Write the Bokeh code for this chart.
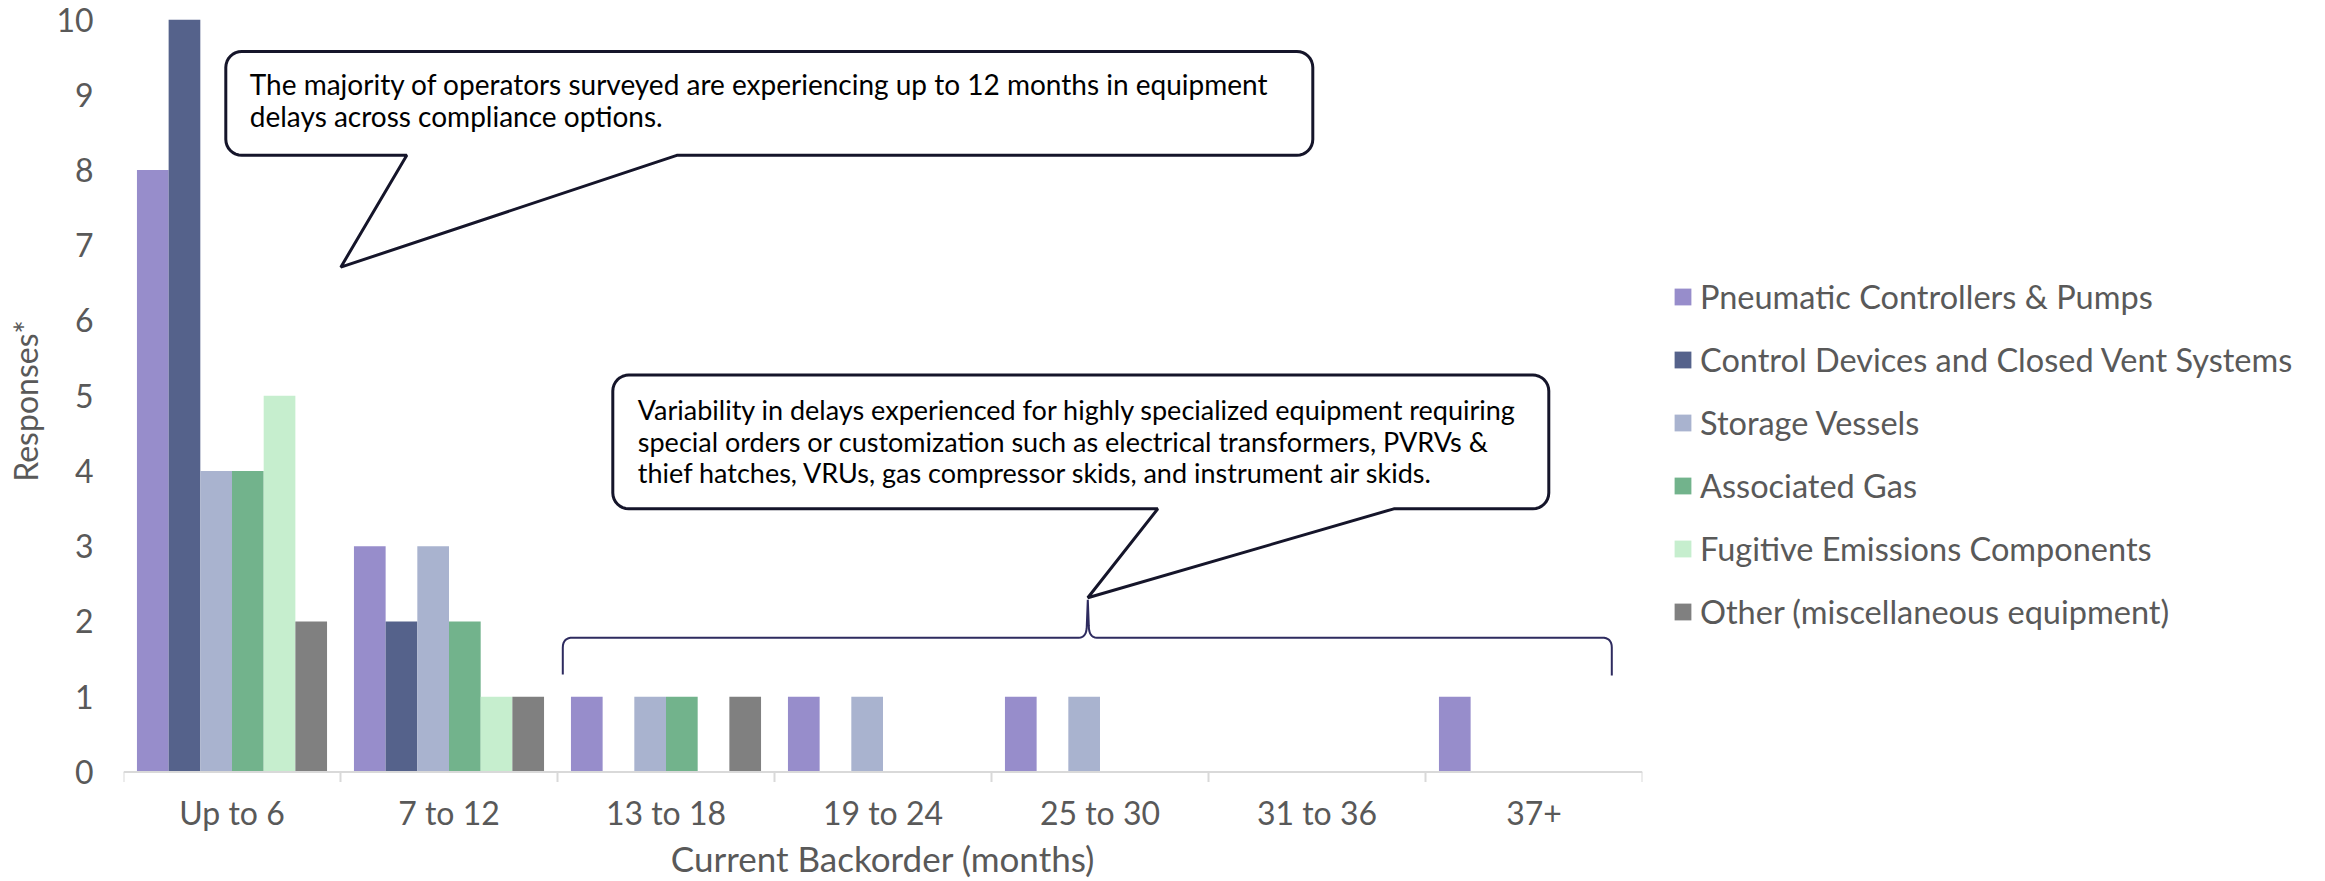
from bokeh.plotting import figure
from bokeh.models import (FactorRange, Range1d, FixedTicker, ColumnDataSource, Span,
                          Label, Legend, LegendItem)
from bokeh.transform import dodge
from bokeh.layouts import row
from bokeh.embed import file_html
from bokeh.resources import INLINE

# ---------------- data ----------------
categories = ["Up to 6", "7 to 12", "13 to 18", "19 to 24", "25 to 30", "31 to 36", "37+"]
series_names = [
    "Pneumatic Controllers & Pumps",
    "Control Devices and Closed Vent Systems",
    "Storage Vessels",
    "Associated Gas",
    "Fugitive Emissions Components",
    "Other (miscellaneous equipment)",
]
pneumatic = [8, 3, 1, 1, 1, 0, 1]
control_devices = [10, 2, 0, 0, 0, 0, 0]
storage_vessels = [4, 3, 1, 1, 1, 0, 0]
associated_gas = [4, 2, 1, 0, 0, 0, 0]
fugitive = [5, 1, 0, 0, 0, 0, 0]
other = [2, 1, 1, 0, 0, 0, 0]
series_values = [pneumatic, control_devices, storage_vessels, associated_gas, fugitive, other]
colors = ["#978DCB", "#55628B", "#A9B3CF", "#72B38C", "#C6EECE", "#808080"]
y_ticks = list(range(0, 11))

callout1_lines = [
    "The majority of operators surveyed are experiencing up to 12 months in equipment",
    "delays across compliance options.",
]
callout2_lines = [
    "Variability in delays experienced for highly specialized equipment requiring",
    "special orders or customization such as electrical transformers, PVRVs &",
    "thief hatches, VRUs, gas compressor skids, and instrument air skids.",
]

# ---------------- styling constants ----------------
FONT = "Lato"
GREY_TXT = "#595959"
H = 881
W_CHART = 1650
W_LEG = 2325 - W_CHART
Y_START = -0.14

p = figure(
    x_range=FactorRange(*categories),
    y_range=Range1d(Y_START, 10),
    width=W_CHART, height=H,
    min_border_left=123, min_border_right=8, min_border_top=19, min_border_bottom=98,
    output_backend="svg", toolbar_location=None,
)
p.xgrid.visible = False
p.ygrid.visible = False
p.outline_line_color = None

n = len(series_names)
bar_w = 0.146
for i, (name, vals, col) in enumerate(zip(series_names, series_values, colors)):
    src = ColumnDataSource(dict(x=categories, top=vals))
    off = (i - (n - 1) / 2) * bar_w
    p.vbar(x=dodge("x", off, range=p.x_range), top="top", width=bar_w, bottom=0,
           source=src, fill_color=col, line_color=None)

# baseline + category boundary ticks
p.add_layout(Span(location=0, dimension="width", line_color="#D9D9D9", line_width=2))
tick_src = ColumnDataSource(dict(x=categories, y0=[0] * len(categories), y1=[-0.133] * len(categories)))
p.segment(x0=dodge("x", -0.5, range=p.x_range), x1=dodge("x", -0.5, range=p.x_range),
          y0="y0", y1="y1", source=tick_src, line_color="#D9D9D9", line_width=2)
end_src = ColumnDataSource(dict(x=[categories[-1]], y0=[0], y1=[-0.133]))
p.segment(x0=dodge("x", 0.5, range=p.x_range), x1=dodge("x", 0.5, range=p.x_range),
          y0="y0", y1="y1", source=end_src, line_color="#D9D9D9", line_width=2)

# axes
p.yaxis.ticker = FixedTicker(ticks=y_ticks)
p.yaxis.axis_line_color = None
p.yaxis.major_tick_line_color = None
p.yaxis.minor_tick_line_color = None
p.yaxis.major_tick_out = 0
p.yaxis.major_tick_in = 0
p.yaxis.major_label_standoff = 30
p.yaxis.major_label_text_font = FONT
p.yaxis.major_label_text_font_size = "32px"
p.yaxis.major_label_text_color = GREY_TXT
p.yaxis.axis_label = "Responses*"
p.yaxis.axis_label_text_font = FONT
p.yaxis.axis_label_text_font_size = "32px"
p.yaxis.axis_label_text_font_style = "normal"
p.yaxis.axis_label_text_color = GREY_TXT
p.yaxis.axis_label_standoff = 8

p.xaxis.axis_line_color = None
p.xaxis.major_tick_line_color = None
p.xaxis.major_tick_out = 0
p.xaxis.major_tick_in = 0
p.xaxis.major_label_standoff = 10
p.xaxis.major_label_text_font = FONT
p.xaxis.major_label_text_font_size = "32px"
p.xaxis.major_label_text_color = GREY_TXT
p.xaxis.axis_label = "Current Backorder (months)"
p.xaxis.axis_label_text_font = FONT
p.xaxis.axis_label_text_font_size = "35px"
p.xaxis.axis_label_text_font_style = "normal"
p.xaxis.axis_label_text_color = GREY_TXT
p.xaxis.axis_label_standoff = 2

# ---------------- annotation geometry (page pixel space -> data space) ----------------
X0_PX, CAT_PX = 122.7, 217.0
Y0_PX, UNIT_PX = 772.5, 75.35


def dx(X):
    return (X - X0_PX) / CAT_PX


def dy(Y):
    return (Y0_PX - Y) / UNIT_PX


def arc(cx, cy, r, a0, a1, steps=8):
    import math
    pts = []
    for k in range(steps + 1):
        a = math.radians(a0 + (a1 - a0) * k / steps)
        pts.append((cx + r * math.cos(a), cy + r * math.sin(a)))
    return pts


def callout(x0, y0, x1, y1, base_l, base_r, tip, r=16):
    pts = []
    pts += arc(x0 + r, y0 + r, r, 180, 270)
    pts += arc(x1 - r, y0 + r, r, 270, 360)
    pts += arc(x1 - r, y1 - r, r, 0, 90)
    pts += [(base_r, y1), tip, (base_l, y1)]
    pts += arc(x0 + r, y1 - r, r, 90, 180)
    xs = [dx(a) for a, b in pts]
    ys = [dy(b) for a, b in pts]
    return xs, ys


CALLOUT_LINE = "#15152A"
xs1, ys1 = callout(225, 51, 1312, 155, 406, 676, (340, 267))
p.patch(xs1, ys1, fill_color="white", line_color=CALLOUT_LINE, line_width=3)
xs2, ys2 = callout(612, 375, 1548, 509, 1157, 1393, (1087, 598))
p.patch(xs2, ys2, fill_color="white", line_color=CALLOUT_LINE, line_width=3)

for k, t in enumerate(callout1_lines):
    p.add_layout(Label(x=dx(249), y=dy(84 + 32 * k), text=t, text_font=FONT,
                       text_font_size="28px", text_color="black", text_baseline="middle"))
for k, t in enumerate(callout2_lines):
    p.add_layout(Label(x=dx(637), y=dy(410 + 31.5 * k), text=t, text_font=FONT,
                       text_font_size="27px", text_color="black", text_baseline="middle"))


# brace under 13..37+
def quad(p0, c, p1, steps=8):
    out = []
    for k in range(steps + 1):
        t = k / steps
        out.append(((1 - t) ** 2 * p0[0] + 2 * (1 - t) * t * c[0] + t ** 2 * p1[0],
                    (1 - t) ** 2 * p0[1] + 2 * (1 - t) * t * c[1] + t ** 2 * p1[1]))
    return out


bp = [(562, 675), (562, 648)]
bp += quad((562, 648), (562, 638), (572, 638))
bp += [(1078, 638)]
bp += quad((1078, 638), (1086, 638), (1086, 626))
bp += [(1087, 600)]
bp += quad((1088, 626), (1088, 638), (1096, 638))
bp += [(1601, 638)]
bp += quad((1601, 638), (1611, 638), (1611, 648))
bp += [(1611, 676)]
p.line([dx(a) for a, b in bp], [dy(b) for a, b in bp], line_color="#2E2B5F", line_width=2)

# ---------------- legend panel ----------------
lf = figure(width=W_LEG, height=H, x_range=Range1d(0, 1), y_range=Range1d(0, 1),
            x_axis_location=None, y_axis_location=None, min_border=0,
            output_backend="svg", toolbar_location=None)
lf.xgrid.visible = False
lf.ygrid.visible = False
lf.outline_line_color = None
items = []
for name, col in zip(series_names, colors):
    # a point far outside the visible range, so only the legend swatch shows
    r = lf.vbar(x=[5], top=[5], bottom=[4], width=0.1, fill_color=col, line_color=None)
    items.append(LegendItem(label=name, renderers=[r]))
legend = Legend(items=items, location=(22, 151), glyph_width=21, glyph_height=21,
                label_standoff=7, label_text_font=FONT, label_text_font_size="32.5px",
                label_text_color=GREY_TXT, spacing=24, padding=0, margin=0,
                border_line_color=None, background_fill_alpha=0)
lf.add_layout(legend)

layout = row(p, lf, spacing=0)
open("out.html", "w").write(file_html(layout, INLINE))
